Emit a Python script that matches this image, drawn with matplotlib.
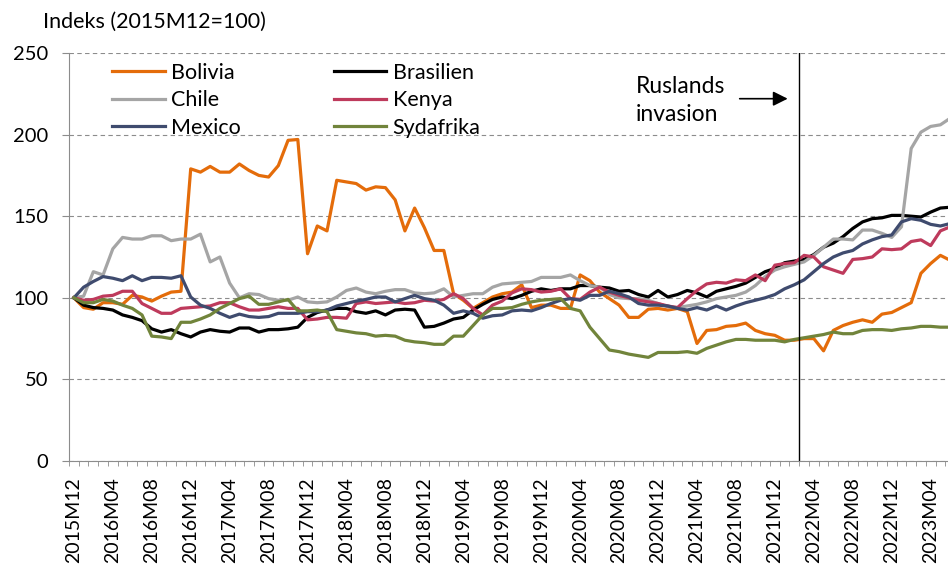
import matplotlib
matplotlib.use("Agg")

import matplotlib.pyplot as plt
import numpy as np
import pandas as pd

# monthly categories 2015M12 .. 2023M06
months = [f"{p.year}M{p.month:02d}" for p in pd.period_range("2015-12", "2023-06", freq="M")]

bolivia = [100, 94, 93, 97, 97, 96, 101.5, 100.5, 98, 101, 103.5, 104,
           179, 177, 180.5, 177, 177, 182, 178, 175, 174, 181, 196.5, 197,
           127, 144, 141, 172, 171, 170, 166, 168, 167.5, 160, 141, 155,
           143, 129, 129, 102.5, 98.5, 93.5, 97, 100.5, 102.5, 103.5, 108, 94,
           95.5, 95.5, 93.5, 93.5, 114, 110.5, 103.5, 99.5, 95.5, 88, 88, 93,
           93.5, 92.5, 93.5, 91.5, 72, 80, 80.5, 82.5, 83, 84.5, 80, 78,
           77, 74, 74, 75, 75, 67.5, 80, 83, 85, 86.5, 85, 90,
           91, 94, 97, 115, 121, 126, 123]
brasilien = [100, 95.5, 94, 93.5, 92.5, 89.5, 88, 86, 81, 79, 80.5, 78,
             76, 79, 80.5, 79.5, 79, 81.5, 81.5, 79, 80.5, 80.5, 81, 82,
             88, 91, 92.5, 93.5, 93.5, 91.5, 90.5, 92, 89.5, 92.5, 93, 92.5,
             82, 82.5, 84.5, 87, 88, 92.5, 96, 99, 100.5, 99.5, 101.5, 104,
             105.5, 104.5, 105.5, 105.5, 107.5, 107.5, 106.5, 106, 104, 104.5, 102, 100.5,
             104.5, 100.5, 102, 104.5, 103, 100.5, 104, 105.5, 107, 109, 112.5, 116,
             118, 121.5, 122.5, 123.5, 126.5, 131, 133.5, 137.5, 142.5, 146.5, 148.5, 149,
             150.5, 150.5, 150, 149.5, 152.5, 155, 155.5]
chile = [100, 101, 116, 114, 130, 137, 136, 136, 138, 138, 135, 136,
         136, 139, 122, 125, 109, 100, 102.5, 102, 99.5, 98.5, 98.5, 100.5,
         97.5, 97, 97.5, 100.5, 104.5, 106, 103.5, 102.5, 104, 105, 105, 103,
         102.5, 103, 105.5, 100.5, 101.5, 102.5, 102.5, 106.5, 108.5, 109, 109.5, 110,
         112.5, 112.5, 112.5, 114, 110.5, 107.5, 106.5, 102, 100, 99.5, 99.5, 98.5,
         96.5, 94.5, 94, 95, 96, 97.5, 99.5, 100.5, 101.5, 103.5, 107.5, 113,
         117, 119, 120.5, 122, 126, 131, 136, 136, 135.5, 141.5, 141.5, 139.5,
         137, 143.5, 191.5, 201.5, 205, 206, 210]
kenya = [100, 98.5, 99, 101, 101.5, 104, 104, 96.5, 93.5, 90.5, 90.5, 93.5,
         94, 94.5, 95, 97, 97, 94.5, 92.5, 92.5, 93.5, 94.5, 93.5, 93.5,
         86.5, 87, 88, 88, 87.5, 96.5, 97.5, 96.5, 97, 97.5, 96.5, 97,
         98.5, 98, 99, 102.5, 99.5, 93.5, 89.5, 95.5, 98, 103, 105.5, 105,
         103.5, 104, 105.5, 99.5, 99, 103.5, 106.5, 103.5, 101.5, 100, 98.5, 97.5,
         96.5, 95, 94, 99.5, 104.5, 108.5, 109.5, 109, 111, 110.5, 114, 110.5,
         120, 121, 121.5, 126, 125, 119, 117, 115, 123.5, 124, 125, 130,
         129.5, 130, 134.5, 135.5, 132, 141, 143.5]
mexico = [100, 106.5, 110, 113, 112, 110.5, 113.5, 110.5, 112.5, 112.5, 112, 113.5,
          100.5, 95.5, 93.5, 90.5, 88, 90, 88.5, 88, 88.5, 90.5, 90.5, 90.5,
          91.5, 91.5, 92.5, 95, 96.5, 98, 99, 100.5, 100.5, 97.5, 99.5, 101.5,
          99.5, 98.5, 95.5, 90.5, 92, 90.5, 87.5, 89, 89.5, 92, 92.5, 92,
          94, 96.5, 98.5, 99.5, 98.5, 101.5, 101.5, 104, 102.5, 100.5, 96.5, 95.5,
          95.5, 95, 93.5, 92.5, 94, 92.5, 95, 92.5, 95, 97, 98.5, 100,
          102, 105.5, 108, 111, 116, 121, 125, 127.5, 129, 133, 135.5, 137.5,
          138.5, 146.5, 148.5, 147.5, 145, 144, 145.5]
sydafrika = [100, 97, 97, 99, 98, 95.5, 93.5, 89.5, 76.5, 76, 75, 85,
             85, 87, 89.5, 93.5, 96.5, 99.5, 101, 96, 96, 97.5, 99, 92,
             92, 92.5, 91.5, 80.5, 79.5, 78.5, 78, 76.5, 77, 76.5, 74, 73,
             72.5, 71.5, 71.5, 76.5, 76.5, 83, 89.5, 93.5, 93.5, 94, 96, 97.5,
             98.5, 99, 99.5, 93.5, 92, 82, 75, 68, 67, 65.5, 64.5, 63.5,
             66.5, 66.5, 66.5, 67, 66, 69, 71, 73, 74.5, 74.5, 74, 74,
             74, 73, 74.5, 75.5, 76.5, 77.5, 79, 78, 78, 80, 80.5, 80.5,
             80, 81, 81.5, 82.5, 82.5, 82, 82]

series = [
    ("Bolivia", bolivia, "#E46C0A"),
    ("Brasilien", brasilien, "#000000"),
    ("Chile", chile, "#A5A5A5"),
    ("Kenya", kenya, "#BE3A5C"),
    ("Mexico", mexico, "#3F4B6E"),
    ("Sydafrika", sydafrika, "#71843B"),
]

invasion_month = "2022M02"

plt.rcParams["font.family"] = ["Lato", "DejaVu Sans"]
FS = 14        # tick labels
FS_TXT = 15.5  # title and legend

fig = plt.figure(figsize=(9.48, 5.69), dpi=100)
W, H = 948, 569
# plot area is wider than the picture, as in the reference (cropped on the right)
ax = fig.add_axes([69 / W, (H - 461) / H, 886 / W, 408 / H])

x = np.arange(len(months))
lines = {}
for name, vals, col in series:
    (ln,) = ax.plot(x, vals, color=col, lw=2.3, label=name, solid_joinstyle="round")
    lines[name] = ln

ax.set_xlim(-0.5, len(months) - 0.5)
ax.set_ylim(0, 250)
ax.set_yticks(range(0, 251, 50))
ax.yaxis.grid(True, color="#8c8c8c", ls=(0, (4, 3)), lw=0.8)
ax.set_axisbelow(True)

# invasion marker
xi = months.index(invasion_month) + 0.5
ax.axvline(xi, color="black", lw=1)
ax.text(57.7, 221, "Ruslands\ninvasion", fontsize=16.5, va="center", ha="left", linespacing=1.4)
ax.annotate("", xy=(xi - 0.9, 222), xytext=(xi - 6.4, 222),
            arrowprops=dict(arrowstyle="-|>", color="black", lw=1.2, mutation_scale=22))

for s in ["top", "right"]:
    ax.spines[s].set_visible(False)
for s in ["left", "bottom"]:
    ax.spines[s].set_color("#8c8c8c")

ax.set_xticks(x[::4])
ax.set_xticklabels(months[::4], rotation=90, fontsize=FS)
ax.set_xticks(np.arange(-0.5, len(months), 1), minor=True)
ax.tick_params(axis="x", which="major", length=0, pad=11.5)
ax.tick_params(axis="x", which="minor", length=3.5, color="#8c8c8c")
ax.tick_params(axis="y", length=5, color="#8c8c8c", pad=10, labelsize=14.5)

fig.text(43 / W, 1 - 22 / H, "Indeks (2015M12=100)", fontsize=FS_TXT, va="center", ha="left")

order = ["Bolivia", "Chile", "Mexico", "Brasilien", "Kenya", "Sydafrika"]
ax.legend([lines[n] for n in order], order, ncol=2, frameon=False, fontsize=FS_TXT,
          loc="upper left", bbox_to_anchor=(112 / W, 1 - 63 / H), bbox_transform=fig.transFigure,
          borderpad=0, borderaxespad=0, handlelength=2.45, handletextpad=0.3,
          labelspacing=0.34, columnspacing=4.3)

plt.savefig("out.png", dpi=100)
plt.close(fig)
